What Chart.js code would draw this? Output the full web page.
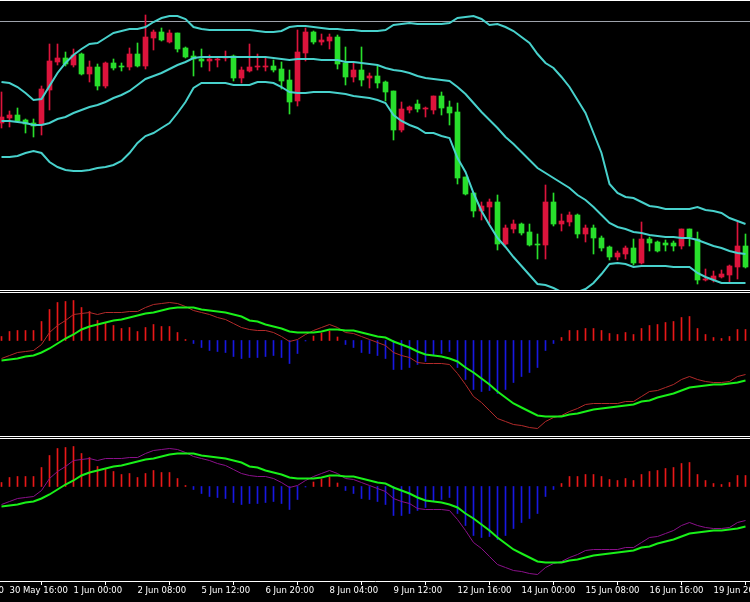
<!DOCTYPE html>
<html lang="en">
<head>
<meta charset="UTF-8">
<title>H4 chart - Bollinger Bands and MACD</title>
<script src="https://cdn.jsdelivr.net/npm/chart.js"></script>
<style>
    html, body { margin: 0; padding: 0; background: #000; overflow: hidden; }
    #wrap { position: relative; width: 750px; height: 602px; background: #000; }
    .pane { position: absolute; left: 0; width: 750px; }
    .sep { position: absolute; left: 0; width: 750px; height: 1px; background: #fff; }
    canvas { display: block; }
</style>
</head>
<body>
<div id="wrap">
    <div class="sep" style="top:0"></div>
    <div class="pane" style="top:1px;height:289px"><canvas id="priceChart" width="750" height="289"></canvas></div>
    <div class="sep" style="top:290px"></div>
    <div class="sep" style="top:292px"></div>
    <div class="pane" style="top:293px;height:143px"><canvas id="macdChart" width="750" height="143"></canvas></div>
    <div class="sep" style="top:436px"></div>
    <div class="sep" style="top:438px"></div>
    <div class="pane" style="top:439px;height:163px"><canvas id="macdChart2" width="750" height="163"></canvas></div>
</div>

<script>
// time axis: one bar = 4 hours, labels every 8 bars
const tickBars = [-7, 1, 9, 17, 25, 33, 41, 49, 57, 65, 73, 81, 89];
const tickLabels = ['29 May 08:00', '30 May 16:00', '1 Jun 00:00', '2 Jun 08:00', '5 Jun 12:00', '6 Jun 20:00',
    '8 Jun 04:00', '9 Jun 12:00', '12 Jun 16:00', '14 Jun 00:00', '15 Jun 08:00', '16 Jun 16:00', '19 Jun 20:00'];

// candles (94 bars)
const openPrices = [
    1.1167, 1.1172, 1.1175, 1.1170, 1.1167, 1.1165, 1.1200, 1.1228, 1.1232, 1.1225,
    1.1236, 1.1216, 1.1223, 1.1204, 1.1227, 1.1224, 1.1223, 1.1236, 1.1224, 1.1252,
    1.1258, 1.1248, 1.1257, 1.1242, 1.1234, 1.1231, 1.1229, 1.1230, 1.1232, 1.1234,
    1.1212, 1.1219, 1.1223, 1.1223, 1.1224, 1.1221, 1.1210, 1.1189, 1.1237, 1.1258,
    1.1248, 1.1249, 1.1253, 1.1227, 1.1213, 1.1220, 1.1212, 1.1214, 1.1208, 1.1199,
    1.1160, 1.1180, 1.1186, 1.1181, 1.1180, 1.1194, 1.1183, 1.1178, 1.1113, 1.1097,
    1.1079, 1.1083, 1.1088, 1.1046, 1.1061, 1.1066, 1.1058, 1.1046, 1.1045, 1.1088,
    1.1066, 1.1068, 1.1075, 1.1056, 1.1062, 1.1052, 1.1043, 1.1033, 1.1036, 1.1042,
    1.1027, 1.1051, 1.1048, 1.1047, 1.1047, 1.1044, 1.1061, 1.1051, 1.1010, 1.1010,
    1.1013, 1.1015, 1.1023, 1.1044
];
const highPrices = [
    1.1198, 1.1179, 1.1182, 1.1171, 1.1171, 1.1204, 1.1246, 1.1246, 1.1238, 1.1241,
    1.1237, 1.1229, 1.1226, 1.1228, 1.1231, 1.1227, 1.1242, 1.1247, 1.1275, 1.1260,
    1.1262, 1.1260, 1.1257, 1.1243, 1.1239, 1.1241, 1.1235, 1.1233, 1.1239, 1.1235,
    1.1223, 1.1246, 1.1236, 1.1232, 1.1230, 1.1228, 1.1220, 1.1260, 1.1262, 1.1259,
    1.1256, 1.1256, 1.1255, 1.1243, 1.1227, 1.1243, 1.1217, 1.1224, 1.1209, 1.1199,
    1.1188, 1.1184, 1.1190, 1.1183, 1.1194, 1.1198, 1.1189, 1.1187, 1.1113, 1.1097,
    1.1088, 1.1091, 1.1095, 1.1065, 1.1070, 1.1067, 1.1066, 1.1056, 1.1105, 1.1097,
    1.1076, 1.1078, 1.1076, 1.1065, 1.1065, 1.1054, 1.1044, 1.1039, 1.1044, 1.1051,
    1.1068, 1.1053, 1.1049, 1.1050, 1.1049, 1.1061, 1.1061, 1.1058, 1.1021, 1.1019,
    1.1020, 1.1025, 1.1068, 1.1056
];
const lowPrices = [
    1.1162, 1.1163, 1.1168, 1.1157, 1.1153, 1.1155, 1.1180, 1.1225, 1.1224, 1.1223,
    1.1215, 1.1208, 1.1200, 1.1202, 1.1220, 1.1219, 1.1220, 1.1223, 1.1221, 1.1240,
    1.1249, 1.1247, 1.1238, 1.1232, 1.1214, 1.1223, 1.1219, 1.1223, 1.1229, 1.1209,
    1.1207, 1.1218, 1.1220, 1.1219, 1.1218, 1.1201, 1.1176, 1.1184, 1.1229, 1.1246,
    1.1245, 1.1241, 1.1221, 1.1205, 1.1208, 1.1204, 1.1202, 1.1202, 1.1189, 1.1150,
    1.1158, 1.1177, 1.1178, 1.1173, 1.1176, 1.1175, 1.1165, 1.1106, 1.1095, 1.1073,
    1.1070, 1.1067, 1.1040, 1.1045, 1.1057, 1.1055, 1.1044, 1.1031, 1.1031, 1.1064,
    1.1059, 1.1064, 1.1052, 1.1048, 1.1036, 1.1039, 1.1030, 1.1030, 1.1031, 1.1025,
    1.1026, 1.1039, 1.1038, 1.1039, 1.1039, 1.1041, 1.1044, 1.1006, 1.1009, 1.1008,
    1.1012, 1.1007, 1.1011, 1.1022
];
const closePrices = [
    1.1173, 1.1175, 1.1169, 1.1166, 1.1164, 1.1201, 1.1229, 1.1232, 1.1226, 1.1235,
    1.1216, 1.1223, 1.1204, 1.1227, 1.1222, 1.1223, 1.1236, 1.1224, 1.1253, 1.1258,
    1.1250, 1.1257, 1.1241, 1.1233, 1.1231, 1.1229, 1.1231, 1.1231, 1.1233, 1.1212,
    1.1220, 1.1223, 1.1224, 1.1224, 1.1220, 1.1209, 1.1188, 1.1238, 1.1258, 1.1248,
    1.1250, 1.1253, 1.1226, 1.1213, 1.1220, 1.1210, 1.1214, 1.1207, 1.1198, 1.1160,
    1.1181, 1.1183, 1.1181, 1.1182, 1.1194, 1.1182, 1.1177, 1.1112, 1.1096, 1.1079,
    1.1084, 1.1088, 1.1046, 1.1062, 1.1066, 1.1057, 1.1045, 1.1045, 1.1088, 1.1066,
    1.1069, 1.1075, 1.1056, 1.1062, 1.1052, 1.1042, 1.1033, 1.1037, 1.1042, 1.1027,
    1.1051, 1.1047, 1.1039, 1.1045, 1.1044, 1.1061, 1.1053, 1.1010, 1.1011, 1.1014,
    1.1016, 1.1024, 1.1044, 1.1023
];

// Bollinger bands
const bbUpper = [
    1.1208, 1.1207, 1.1203, 1.1197, 1.1190, 1.1191, 1.1204, 1.1217, 1.1227, 1.1235,
    1.1241, 1.1246, 1.1247, 1.1252, 1.1257, 1.1259, 1.1261, 1.1261, 1.1263, 1.1268,
    1.1272, 1.1274, 1.1274, 1.1271, 1.1263, 1.1261, 1.1260, 1.1260, 1.1260, 1.1260,
    1.1260, 1.1260, 1.1259, 1.1258, 1.1258, 1.1259, 1.1263, 1.1264, 1.1264, 1.1263,
    1.1262, 1.1261, 1.1261, 1.1260, 1.1260, 1.1259, 1.1259, 1.1259, 1.1260, 1.1265,
    1.1266, 1.1267, 1.1266, 1.1266, 1.1266, 1.1266, 1.1267, 1.1272, 1.1273, 1.1274,
    1.1271, 1.1265, 1.1266, 1.1263, 1.1259, 1.1253, 1.1247, 1.1236, 1.1227, 1.1222,
    1.1213, 1.1203, 1.1190, 1.1177, 1.1157, 1.1137, 1.1106, 1.1097, 1.1093, 1.1092,
    1.1088, 1.1084, 1.1083, 1.1081, 1.1081, 1.1081, 1.1081, 1.1083, 1.1080, 1.1079,
    1.1077, 1.1072, 1.1069, 1.1066
];
const bbMiddle = [
    1.1169, 1.1169, 1.1168, 1.1167, 1.1165, 1.1165, 1.1167, 1.1171, 1.1173, 1.1177,
    1.1180, 1.1183, 1.1185, 1.1188, 1.1192, 1.1195, 1.1199, 1.1205, 1.1211, 1.1214,
    1.1217, 1.1221, 1.1225, 1.1228, 1.1232, 1.1233, 1.1233, 1.1233, 1.1233, 1.1233,
    1.1233, 1.1233, 1.1233, 1.1233, 1.1232, 1.1231, 1.1230, 1.1231, 1.1231, 1.1231,
    1.1230, 1.1230, 1.1230, 1.1228, 1.1228, 1.1227, 1.1226, 1.1225, 1.1222, 1.1220,
    1.1219, 1.1217, 1.1214, 1.1212, 1.1211, 1.1210, 1.1209, 1.1203, 1.1196, 1.1187,
    1.1178, 1.1170, 1.1162, 1.1153, 1.1146, 1.1138, 1.1130, 1.1122, 1.1117, 1.1112,
    1.1107, 1.1102, 1.1095, 1.1090, 1.1083, 1.1075, 1.1067, 1.1063, 1.1061, 1.1058,
    1.1057, 1.1055, 1.1054, 1.1053, 1.1053, 1.1052, 1.1052, 1.1050, 1.1047, 1.1044,
    1.1042, 1.1039, 1.1037, 1.1036
];
const bbLower = [
    1.1133, 1.1133, 1.1134, 1.1137, 1.1139, 1.1137, 1.1128, 1.1123, 1.1120, 1.1119,
    1.1119, 1.1120, 1.1122, 1.1123, 1.1125, 1.1129, 1.1137, 1.1147, 1.1154, 1.1157,
    1.1162, 1.1167, 1.1177, 1.1188, 1.1202, 1.1207, 1.1207, 1.1207, 1.1207, 1.1205,
    1.1205, 1.1205, 1.1208, 1.1208, 1.1207, 1.1203, 1.1198, 1.1197, 1.1197, 1.1198,
    1.1198, 1.1198, 1.1197, 1.1196, 1.1194, 1.1193, 1.1192, 1.1190, 1.1187, 1.1175,
    1.1169, 1.1165, 1.1162, 1.1157, 1.1157, 1.1154, 1.1152, 1.1132, 1.1118, 1.1097,
    1.1079, 1.1065, 1.1052, 1.1043, 1.1033, 1.1024, 1.1015, 1.1006, 1.1005, 1.1002,
    1.0998, 1.0998, 1.0998, 1.1001, 1.1007, 1.1016, 1.1026, 1.1027, 1.1026, 1.1023,
    1.1024, 1.1024, 1.1024, 1.1024, 1.1023, 1.1023, 1.1023, 1.1017, 1.1013, 1.1010,
    1.1007, 1.1007, 1.1007, 1.1007
];
const levelPrice = 1.12685;   // horizontal line near the top

// MACD panes (both panes show the same values)
const macdHist = [
    0.0004, 0.0009, 0.0010, 0.0010, 0.0010, 0.0019, 0.0031, 0.0038, 0.0039, 0.0040,
    0.0033, 0.0029, 0.0020, 0.0018, 0.0015, 0.0012, 0.0013, 0.0009, 0.0013, 0.0016,
    0.0014, 0.0014, 0.0008, 0.0001, -0.0003, -0.0007, -0.0010, -0.0011, -0.0012, -0.0016,
    -0.0018, -0.0017, -0.0017, -0.0016, -0.0015, -0.0017, -0.0023, -0.0013, -0.00005, 0.00045,
    0.00075, 0.00095, 0.00035, -0.0004, -0.0007, -0.0012, -0.0013, -0.0015, -0.0018, -0.0029,
    -0.0029, -0.0027, -0.0024, -0.0021, -0.0015, -0.0013, -0.0011, -0.0027, -0.0039, -0.0049,
    -0.0051, -0.0050, -0.0053, -0.0049, -0.0042, -0.0036, -0.0032, -0.0027, -0.0010, -0.0003,
    0.0003, 0.0010, 0.0010, 0.0012, 0.0012, 0.0010, 0.0007, 0.0006, 0.0008, 0.0006,
    0.0012, 0.0015, 0.0016, 0.0018, 0.0019, 0.0023, 0.0024, 0.0012, 0.0006, 0.0003,
    0.0002, 0.0004, 0.0011, 0.0011
];
const macdMain = [
    -0.0018, -0.0015, -0.0012, -0.0011, -0.0010, -0.0004, 0.0008, 0.0015, 0.0020, 0.0026,
    0.0027, 0.0028, 0.0026, 0.0028, 0.0028, 0.0028, 0.0029, 0.0029, 0.0033, 0.0036,
    0.0037, 0.0038, 0.0037, 0.0034, 0.0030, 0.0028, 0.0026, 0.0023, 0.0021, 0.0017,
    0.0013, 0.0011, 0.0010, 0.0010, 0.0008, 0.0004, -0.0001, 0.0001, 0.0006, 0.0010,
    0.0013, 0.0016, 0.0013, 0.0008, 0.0007, 0.0004, 0.0001, -0.0002, -0.0005, -0.0012,
    -0.0015, -0.0017, -0.0022, -0.0023, -0.0023, -0.0023, -0.0024, -0.0033, -0.0044, -0.0056,
    -0.0062, -0.0070, -0.0078, -0.0081, -0.0084, -0.0085, -0.0087, -0.0088, -0.0081, -0.0077,
    -0.0075, -0.0071, -0.0068, -0.0064, -0.0063, -0.0063, -0.0063, -0.0063, -0.0061, -0.0061,
    -0.0056, -0.0051, -0.0050, -0.0047, -0.0044, -0.0039, -0.0036, -0.0039, -0.0041, -0.0042,
    -0.0042, -0.0041, -0.0036, -0.0034
];
const macdSignal = [
    -0.0020, -0.0019, -0.0018, -0.0016, -0.0015, -0.0012, -0.0008, -0.0003, 0.0002, 0.0006,
    0.0011, 0.0014, 0.0016, 0.0018, 0.0020, 0.0021, 0.0023, 0.0025, 0.0027, 0.0028,
    0.0030, 0.0032, 0.0033, 0.0033, 0.0033, 0.0031, 0.0030, 0.0029, 0.0028, 0.0026,
    0.0024, 0.0020, 0.0019, 0.0016, 0.0014, 0.0012, 0.0009, 0.0008, 0.0008, 0.0008,
    0.0009, 0.0011, 0.0011, 0.0010, 0.0010, 0.0008, 0.0006, 0.0004, 0.0003, -0.0001,
    -0.0004, -0.0007, -0.0011, -0.0014, -0.0015, -0.0016, -0.0018, -0.0021, -0.0027, -0.0032,
    -0.0038, -0.0044, -0.0051, -0.0057, -0.0063, -0.0067, -0.0071, -0.0075, -0.0076, -0.0076,
    -0.0076, -0.0074, -0.0073, -0.0071, -0.0069, -0.0068, -0.0067, -0.0066, -0.0065, -0.0064,
    -0.0061, -0.0060, -0.0057, -0.0055, -0.0053, -0.0050, -0.0047, -0.0046, -0.0045, -0.0044,
    -0.0044, -0.0043, -0.0042, -0.0040
];

// ---- chart setup ----
const X_MIN = -0.1875;   // so that bar spacing is 8px across 750px
const X_MAX = 93.5625;

const upColor = '#dc143c';
const downColor = '#28df2c';
const bandColor = '#48d1cc';

const candleColors = closePrices.map((c, i) => c >= openPrices[i] ? upColor : downColor);
const toPoints = arr => arr.map((v, i) => ({ x: i, y: v }));

const baseOptions = () => ({
    responsive: false,
    animation: false,
    devicePixelRatio: 1,
    events: [],
    layout: { padding: 0 },
    plugins: { legend: { display: false }, tooltip: { enabled: false } }
});

const hiddenX = () => ({ type: 'linear', min: X_MIN, max: X_MAX, offset: false, bounds: 'data', display: false });

function lineSet(data, color, width, order) {
    return {
        type: 'line', data: toPoints(data), borderColor: color, borderWidth: width,
        pointRadius: 0, tension: 0, fill: false, order: order
    };
}

// price window
const priceOptions = baseOptions();
priceOptions.scales = {
    x: hiddenX(),
    y: { type: 'linear', min: 1.1000, max: 1.1289, display: false }
};
new Chart(document.getElementById('priceChart'), {
    type: 'bar',
    data: {
        datasets: [
            lineSet(bbUpper, bandColor, 2, 0),
            lineSet(bbMiddle, bandColor, 2, 0),
            lineSet(bbLower, bandColor, 2, 0),
            {
                type: 'line', data: [{ x: X_MIN, y: levelPrice }, { x: X_MAX, y: levelPrice }],
                borderColor: '#9ea3ab', borderWidth: 1, pointRadius: 0, order: 5
            },
            {
                type: 'bar', label: 'wicks', grouped: false, barThickness: 1, borderWidth: 0,
                data: lowPrices.map((l, i) => ({ x: i, y: [l, highPrices[i]] })),
                backgroundColor: candleColors, order: 2
            },
            {
                type: 'bar', label: 'bodies', grouped: false, barThickness: 5, borderWidth: 0, minBarLength: 1,
                data: openPrices.map((o, i) => ({ x: i, y: [o, closePrices[i]] })),
                backgroundColor: candleColors, order: 1
            }
        ]
    },
    options: priceOptions
});

// MACD windows
function macdPane(id, mainColor, yMin, withAxis) {
    const opts = baseOptions();
    const x = hiddenX();
    if (withAxis) {
        x.display = true;
        x.position = 'bottom';
        x.afterBuildTicks = axis => { axis.ticks = tickBars.map(v => ({ value: v })); };
        x.afterFit = axis => {
            axis.height = 21;
            axis.paddingLeft = 0;   // keep the plot full width, labels may run off the edge
            axis.paddingRight = 0;
        };
        x.grid = { display: true, drawOnChartArea: false, drawTicks: true, tickLength: 4, color: '#ffffff', lineWidth: 1 };
        x.border = { display: true, color: '#ffffff', width: 1 };
        x.ticks = {
            color: '#ffffff', align: 'start', padding: 1, maxRotation: 0, autoSkip: false,
            font: { family: '"DejaVu Sans", sans-serif', size: 8.5 },
            callback: (v, i) => tickLabels[i]
        };
    }
    opts.scales = { x: x, y: { type: 'linear', min: yMin, max: 0.00475, display: false } };
    new Chart(document.getElementById(id), {
        type: 'bar',
        data: {
            datasets: [
                lineSet(macdSignal, '#19f019', 2, 0),
                lineSet(macdMain, mainColor, 1, 1),
                {
                    type: 'bar', grouped: false, barThickness: 1, borderWidth: 0,
                    data: toPoints(macdHist),
                    backgroundColor: macdHist.map(v => v >= 0 ? '#e81818' : '#1818e0'),
                    order: 2
                }
            ]
        },
        options: opts
    });
}

macdPane('macdChart', '#b22a2a', -0.00955, false);
macdPane('macdChart2', '#8a108a', -0.00945, true);
</script>
</body>
</html>
